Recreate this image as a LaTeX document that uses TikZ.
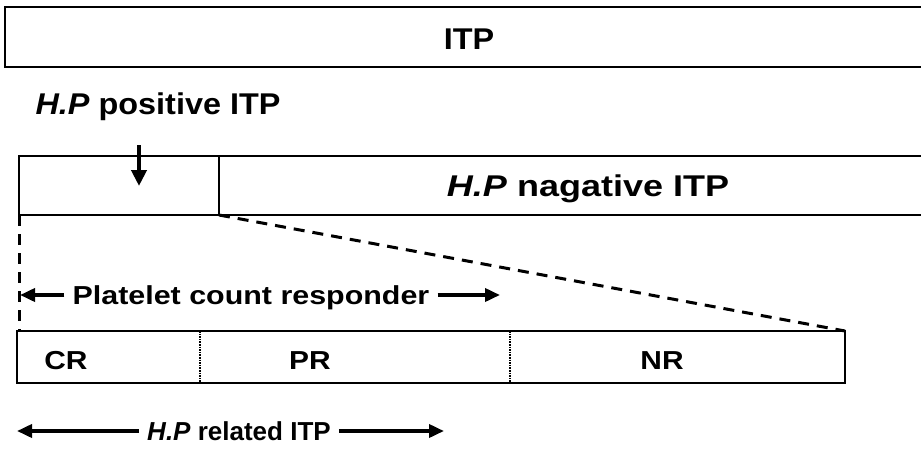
\documentclass[tikz,border=0pt]{standalone}
\usepackage{fontspec}
\setmainfont{Liberation Sans}
\usetikzlibrary{arrows.meta}
\newcommand\wide[2]{\scalebox{#1}[1]{#2}}
\begin{document}
\begin{tikzpicture}[x=1pt,y=-1pt,
  boxline/.style={line width=2pt, line join=miter},
  divline/.style={line width=1.6pt, densely dotted},
  dashline/.style={line width=3pt, dash pattern=on 11pt off 8pt},
  big/.style={font=\bfseries\fontsize{30}{33}\selectfont, inner sep=0pt, anchor=base},
  mid/.style={font=\bfseries\fontsize{26}{29}\selectfont, inner sep=0pt, anchor=base},
  arr/.style={line width=4pt, -{Triangle[length=16pt,width=15pt]}},
  biarr/.style={line width=3.6pt, -{Triangle[length=15pt,width=13pt]}}]
\useasboundingbox (0,0) rectangle (921,455);
\fill[white] (0,0) rectangle (921,455);

% top ITP band
\coordinate (itpNE) at (921,7);
\coordinate (itpNW) at (5,7);
\coordinate (itpSW) at (5,67);
\coordinate (itpSE) at (921,67);
\draw[boxline] (itpNE) -- (itpNW) -- (itpSW) -- (itpSE);
\node[big] (itp) at (469,49) {\wide{1.08}{ITP}};

% second band
\coordinate (posNW) at (19,156);
\coordinate (posSW) at (19,215);
\coordinate (posNE) at (219,156);
\coordinate (posSE) at (219,215);
\coordinate (negNE) at (921,156);
\coordinate (negSE) at (921,215);
\draw[boxline] (negNE) -- (posNW) -- (posSW) -- (negSE);
\draw[boxline] (posNE) -- (posSE);
\node[big] (poslbl) at (158,114) {\wide{1.08}{\textit{H.P} positive ITP}};
\node[big] (neglbl) at (588,196) {\wide{1.2}{\textit{H.P} nagative ITP}};
\coordinate (downN) at (139,145);
\coordinate (downS) at (139,186);
\draw[arr] (downN) -- (downS);

% bottom band
\coordinate (brNW) at (17,331);
\coordinate (brNE) at (845,331);
\coordinate (brSW) at (17,383);
\coordinate (brSE) at (845,383);
\draw[boxline] (brNW) rectangle (brSE);
\coordinate (d1N) at (200,331);
\coordinate (d1S) at (200,383);
\coordinate (d2N) at (510,331);
\coordinate (d2S) at (510,383);
\draw[divline] (d1N) -- (d1S);
\draw[divline] (d2N) -- (d2S);
\node[mid] (cr) at (66,369) {\wide{1.15}{CR}};
\node[mid] (pr) at (310,369) {\wide{1.15}{PR}};
\node[mid] (nr) at (662,369) {\wide{1.15}{NR}};

% zoom lines
\coordinate (zl) at (19,331);
\draw[dashline] (posSW) -- (zl);
\draw[dashline] (posSE) -- (brNE);

% platelet count responder
\node[mid] (plt) at (251,304) {\wide{1.17}{Platelet count responder}};
\coordinate (pltL) at (20,295);
\coordinate (pltR) at (500,295);
\draw[biarr] (plt.west |- pltL) ++(-8,0) -- (pltL);
\draw[biarr] (plt.east |- pltR) ++(8,0) -- (pltR);

% H.P related ITP
\node[mid] (rel) at (239,440) {\wide{1.0}{\textit{H.P} related ITP}};
\coordinate (relL) at (17,431);
\coordinate (relR) at (444,431);
\draw[biarr] (rel.west |- relL) ++(-8,0) -- (relL);
\draw[biarr] (rel.east |- relR) ++(8,0) -- (relR);
\end{tikzpicture}
\end{document}
